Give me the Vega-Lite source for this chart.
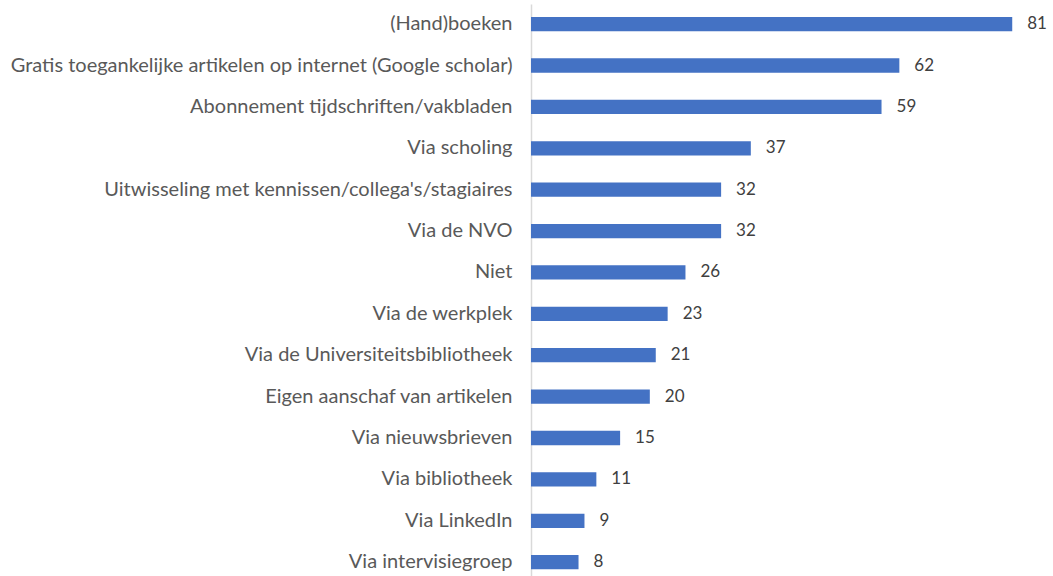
{
  "$schema": "https://vega.github.io/schema/vega-lite/v6.json",
  "width": 505,
  "height": 572,
  "autosize": {"type": "none"},
  "padding": {"top": 4, "left": 531, "right": 17, "bottom": 0},
  "background": "white",
  "config": {"view": {"stroke": null}, "font": "Lato"},
  "data": {"values": [
    {"label": "(Hand)boeken", "value": 81},
    {"label": "Gratis toegankelijke artikelen op internet (Google scholar)", "value": 62},
    {"label": "Abonnement tijdschriften/vakbladen", "value": 59},
    {"label": "Via scholing", "value": 37},
    {"label": "Uitwisseling met kennissen/collega's/stagiaires", "value": 32},
    {"label": "Via de NVO", "value": 32},
    {"label": "Niet", "value": 26},
    {"label": "Via de werkplek", "value": 23},
    {"label": "Via de Universiteitsbibliotheek", "value": 21},
    {"label": "Eigen aanschaf van artikelen", "value": 20},
    {"label": "Via nieuwsbrieven", "value": 15},
    {"label": "Via bibliotheek", "value": 11},
    {"label": "Via LinkedIn", "value": 9},
    {"label": "Via intervisiegroep", "value": 8}
  ]},
  "encoding": {
    "y": {
      "field": "label", "type": "nominal", "sort": null,
      "scale": {"paddingInner": 0.655, "paddingOuter": 0.2375, "align": 0.66},
      "axis": {
        "title": null, "ticks": false, "labelPadding": 19,
        "labelFontSize": 20, "labelColor": "#595959", "labelFont": "Lato",
        "domainColor": "#d9d9d9", "domainWidth": 1.5, "labelLimit": 600
      }
    },
    "x": {
      "field": "value", "type": "quantitative",
      "scale": {"domain": [0, 85], "nice": false},
      "axis": null
    }
  },
  "layer": [
    {"mark": {"type": "bar", "color": "#4472C4"}},
    {
      "mark": {"type": "text", "align": "left", "dx": 15, "fontSize": 17, "color": "#404040", "font": "Lato"},
      "encoding": {"text": {"field": "value", "type": "quantitative"}}
    }
  ]
}
